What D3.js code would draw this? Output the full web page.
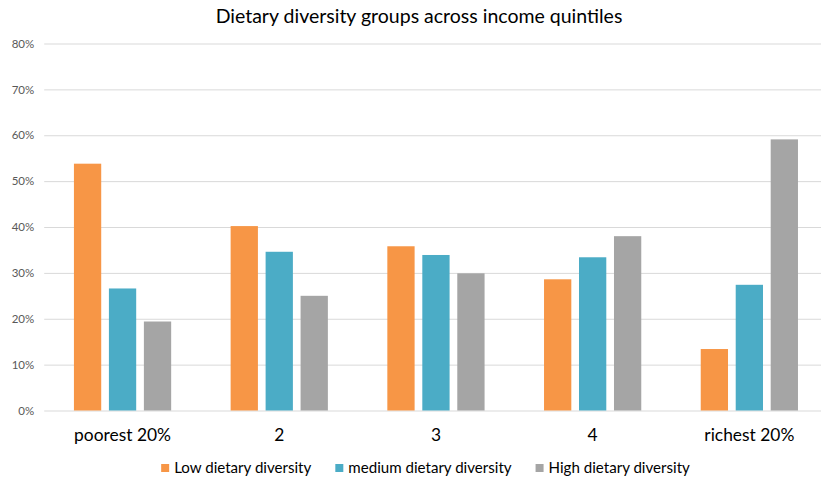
<!DOCTYPE html>
<html>
<head>
<meta charset="utf-8">
<script src="https://cdn.jsdelivr.net/npm/d3@7"></script>
<style>
  html, body { margin: 0; padding: 0; background: #fff; }
  svg { display: block; font-family: Lato, "Open Sans", sans-serif; }
</style>
</head>
<body>
<svg id="chart" width="821" height="480"></svg>
<script>
// Income quintiles along the x axis
const categories = ["poorest 20%", "2", "3", "4", "richest 20%"];
// Dietary diversity groups (series)
const seriesNames = ["Low dietary diversity", "medium dietary diversity", "High dietary diversity"];
const lowDiversity    = [0.538, 0.402, 0.358, 0.286, 0.134];
const mediumDiversity = [0.266, 0.346, 0.339, 0.334, 0.274];
const highDiversity   = [0.194, 0.250, 0.299, 0.380, 0.591];
const yTicks = [0, 0.1, 0.2, 0.3, 0.4, 0.5, 0.6, 0.7, 0.8];
const colors = ["#F79646", "#4BACC6", "#A5A5A5"];
const titleText = "Dietary diversity groups across income quintiles";

const seriesValues = [lowDiversity, mediumDiversity, highDiversity];
const svg = d3.select("#chart");

const plot = { left: 44.2, right: 827.7, top: 43.5, bottom: 410.5 };

const x0 = d3.scaleBand().domain(categories).range([plot.left, plot.right]).padding(0);
const x1 = d3.scaleBand().domain(seriesNames).range([0, x0.bandwidth()])
  .paddingInner(0.22).paddingOuter(0.85);
const y = d3.scaleLinear().domain([0, 0.8]).range([plot.bottom, plot.top]);

// Title
svg.append("text")
  .attr("x", 419).attr("y", 23)
  .attr("text-anchor", "middle")
  .attr("font-size", 19.5)
  .attr("fill", "#000")
  .text(titleText);

// Horizontal gridlines + percentage labels
const yAxis = d3.axisLeft(y).tickValues(yTicks).tickFormat(d3.format(".0%"))
  .tickSize(-(plot.right - plot.left)).tickPadding(10);
const gy = svg.append("g").attr("transform", `translate(${plot.left},0)`).call(yAxis);
gy.select(".domain").remove();
gy.selectAll(".tick line").attr("stroke", "#D9D9D9").attr("stroke-width", 1);
gy.selectAll(".tick text").attr("fill", "#595959").attr("font-size", 11.5)
  .attr("font-family", "Lato, sans-serif");

// Bars
const rows = categories.map((c, i) => ({ cat: c, vals: seriesNames.map((s, j) => ({ s, j, v: seriesValues[j][i] })) }));
const groups = svg.append("g").selectAll("g").data(rows).join("g")
  .attr("transform", d => `translate(${x0(d.cat)},0)`);
groups.selectAll("rect").data(d => d.vals).join("rect")
  .attr("x", d => x1(d.s))
  .attr("width", x1.bandwidth())
  .attr("y", d => y(d.v))
  .attr("height", d => y(0) - y(d.v))
  .attr("fill", d => colors[d.j]);

// Category labels
const xAxis = d3.axisBottom(x0).tickSize(0).tickPadding(0);
const gx = svg.append("g").attr("transform", `translate(0,${plot.bottom})`).call(xAxis);
gx.select(".domain").remove();
gx.selectAll(".tick text")
  .attr("dy", 0).attr("y", 30)
  .attr("fill", "#000").attr("font-size", 17.4)
  .attr("font-family", "Lato, sans-serif");

// Legend, laid out left to right and centred
const legend = svg.append("g");
const items = legend.selectAll("g").data(seriesNames).join("g");
items.append("rect").attr("width", 8).attr("height", 8).attr("y", -8.5)
  .attr("fill", (d, i) => colors[i]);
items.append("text").attr("x", 13).attr("y", 0).attr("font-size", 15.1)
  .attr("fill", "#000").text(d => d);
let cursor = 0;
items.each(function () {
  const g = d3.select(this);
  g.attr("transform", `translate(${cursor},0)`);
  cursor += 13 + g.select("text").node().getComputedTextLength() + 24;
});
const legendWidth = cursor - 24;
legend.attr("transform", `translate(${425.5 - legendWidth / 2},472.5)`);
</script>
</body>
</html>
